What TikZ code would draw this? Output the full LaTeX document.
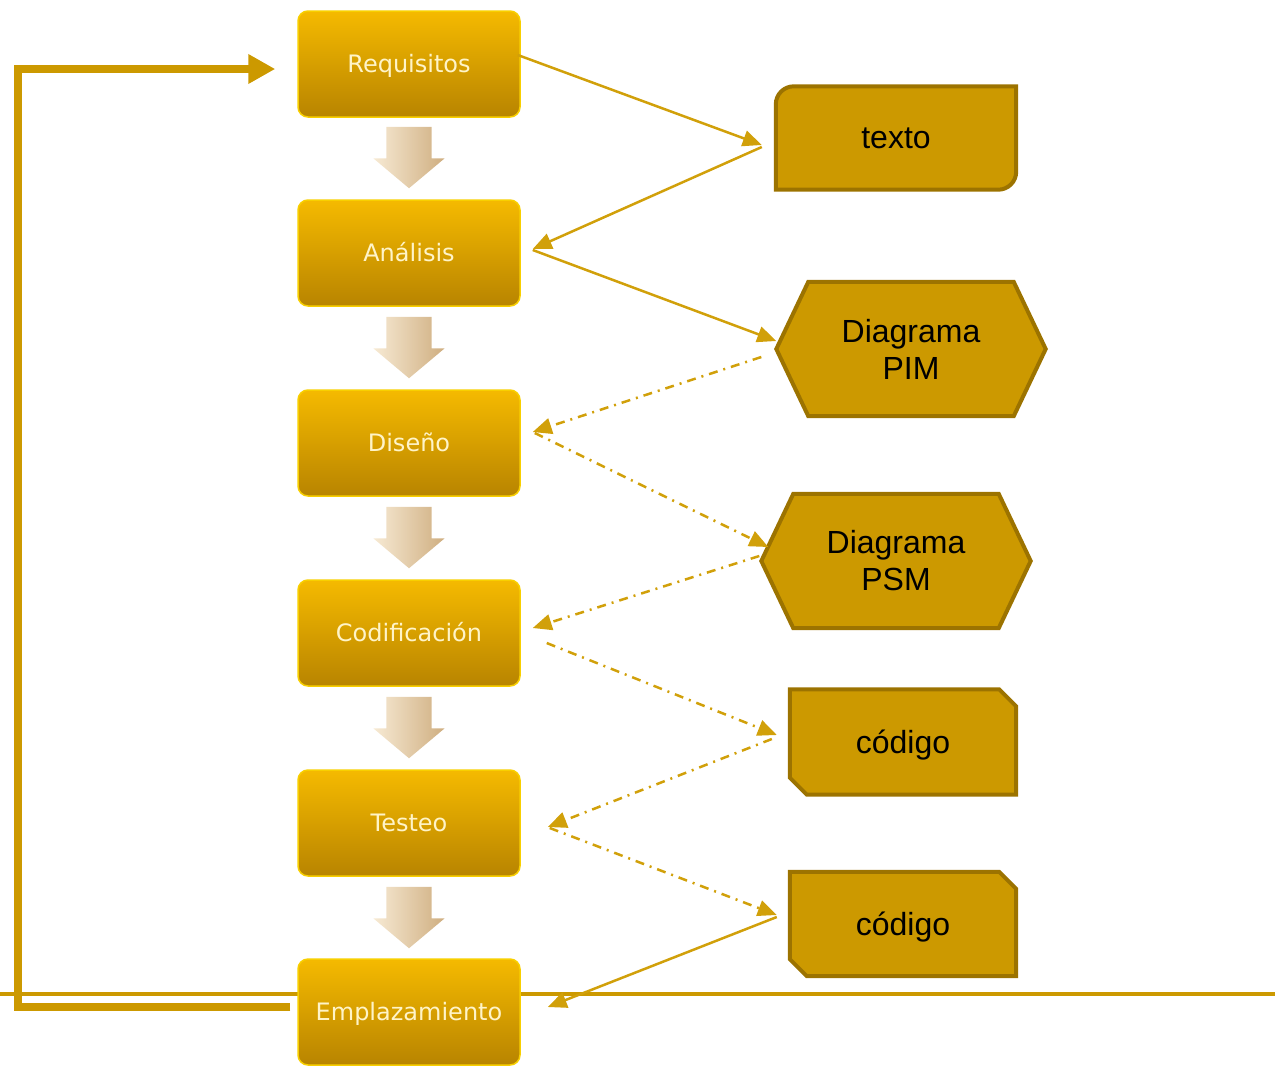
\documentclass[tikz,border=0pt]{standalone}
\usepackage{fontspec}
\setmainfont{Liberation Sans}
\newfontfamily\fasefont{DejaVu Sans}
\usepackage{xcolor}
\usepackage{tikz}
\usetikzlibrary{
	arrows.meta,shapes.arrows,calc
}
\definecolor{oro}{HTML}{CC9900}
\definecolor{oroborde}{HTML}{9C7300}
\definecolor{orotop}{HTML}{F5BA00}
\definecolor{oromid}{HTML}{E2A600}
\definecolor{orobot}{HTML}{B88400}
\definecolor{crema}{HTML}{FFF4C8}
\definecolor{linea}{HTML}{D1A00A}
\definecolor{beigeA}{HTML}{F7EAD4}
\definecolor{beigeB}{HTML}{CFAE80}
\pgfdeclarelayer{background}
\pgfsetlayers{background,main}

\begin{document}
\begin{tikzpicture}[x=1pt,y=-1pt,
	fase/.style={rounded corners=10pt, draw=orotop!70!yellow, line width=1.5pt,
		top color=orotop, middle color=oromid, bottom color=orobot,
		minimum width=222pt, minimum height=106pt, text=crema,
		text height=22.5pt, text depth=5pt,
		font=\fasefont\fontsize{24}{28}\selectfont},
	baja/.style={single arrow, shape border rotate=270, inner xsep=22.5pt, inner ysep=21pt,
		single arrow head extend=13pt, single arrow tip angle=100,
		left color=beigeA, right color=beigeB},
	prod/.style={align=center, inner sep=0pt, font=\fontsize{32}{37}\selectfont},
	forma/.style={fill=oro, draw=oroborde, line width=4pt, line join=miter},
	flujo/.style={linea, line width=2.5pt, -{Triangle[length=19pt,width=16pt]}},
	punteo/.style={flujo, dash pattern=on 9pt off 6pt on 2pt off 6pt},
	retorno/.style={oro, line width=8pt, line join=miter, -{Triangle[length=27pt,width=28pt]}},
]
	\useasboundingbox (0,0) rectangle (1275,1066);
	\draw[oro, line width=4pt] (0,994) -- (1275,994);
	%
	\node[fase] (R) at (409,64) {Requisitos};
	\node[fase] (A) at (409,253) {Análisis};
	\node[fase] (D) at (409,443) {Diseño};
	\node[fase] (C) at (409,633) {Codificación};
	\node[fase] (T) at (409,823) {Testeo};
	\node[fase] (E) at (409,1012) {Emplazamiento};
	%
	\node[baja] (b1) at (409,148) {};
	\node[baja] (b2) at (409,338) {};
	\node[baja] (b3) at (409,528) {};
	\node[baja] (b4) at (409,718) {};
	\node[baja] (b5) at (409,908) {};
	%
	\node[prod, minimum width=240pt, minimum height=103pt] (TX) at (896,138) {texto};
	\node[prod, minimum width=269pt, minimum height=134pt] (PIM) at (911,349) {Diagrama\\PIM};
	\node[prod, minimum width=269pt, minimum height=134pt] (PSM) at (896,561) {Diagrama\\PSM};
	\node[prod, text depth=0pt, minimum width=226pt, minimum height=105pt] (K1) at (903,742) {código};
	\node[prod, text depth=0pt, minimum width=226pt, minimum height=104pt] (K2) at (903,924) {código};
	%
	\begin{pgfonlayer}{background}
		\filldraw[forma] (TX.south west) -- ($(TX.north west)+(0,18)$)
			arc[start angle=180, end angle=90, radius=18pt] -- (TX.north east)
			-- ($(TX.south east)+(0,-18)$) arc[start angle=0, end angle=-90, radius=18pt] -- cycle;
		\filldraw[forma] (PIM.west) -- ($(PIM.north west)+(32,0)$) -- ($(PIM.north east)+(-32,0)$)
			-- (PIM.east) -- ($(PIM.south east)+(-32,0)$) -- ($(PIM.south west)+(32,0)$) -- cycle;
		\filldraw[forma] (PSM.west) -- ($(PSM.north west)+(32,0)$) -- ($(PSM.north east)+(-32,0)$)
			-- (PSM.east) -- ($(PSM.south east)+(-32,0)$) -- ($(PSM.south west)+(32,0)$) -- cycle;
		\filldraw[forma] (K1.north west) -- ($(K1.north east)+(-17,0)$) -- ($(K1.north east)+(0,17)$)
			-- (K1.south east) -- ($(K1.south west)+(17,0)$) -- ($(K1.south west)+(0,-17)$) -- cycle;
		\filldraw[forma] (K2.north west) -- ($(K2.north east)+(-17,0)$) -- ($(K2.north east)+(0,17)$)
			-- (K2.south east) -- ($(K2.south west)+(17,0)$) -- ($(K2.south west)+(0,-17)$) -- cycle;
	\end{pgfonlayer}
	%
	\draw[flujo] ($(R.east)+(-3,-9)$) -- ($(TX.west)+(-14,7)$);
	\draw[flujo] ($(TX.west)+(-14,9)$) -- ($(A.east)+(12,-4)$);
	\draw[flujo] ($(A.east)+(12,-3)$) -- ($(PIM.west)+(0,-8)$);
	\draw[punteo] ($(PIM.west)+(-15,8)$) -- ($(D.east)+(12,-11)$);
	\draw[punteo] ($(D.east)+(14,-10)$) -- ($(PSM.west)+(7,-14)$);
	\draw[punteo] ($(PSM.west)+(-2,-5)$) -- ($(C.east)+(12,-5)$);
	\draw[punteo] ($(C.east)+(26,10)$) -- ($(K1.west)+(-13,-7)$);
	\draw[punteo] ($(K1.west)+(-18,-3)$) -- ($(T.east)+(27,4)$);
	\draw[punteo] ($(T.east)+(29,5)$) -- ($(K2.west)+(-13,-9)$);
	\draw[flujo] ($(K2.west)+(-13,-7)$) -- ($(E.east)+(27,-5)$);
	%
	\draw[retorno] ($(E.west)+(-7,-5)$) -- ++(-272,0) |- ($(R.west)+(-22,5)$);
\end{tikzpicture}
\end{document}
